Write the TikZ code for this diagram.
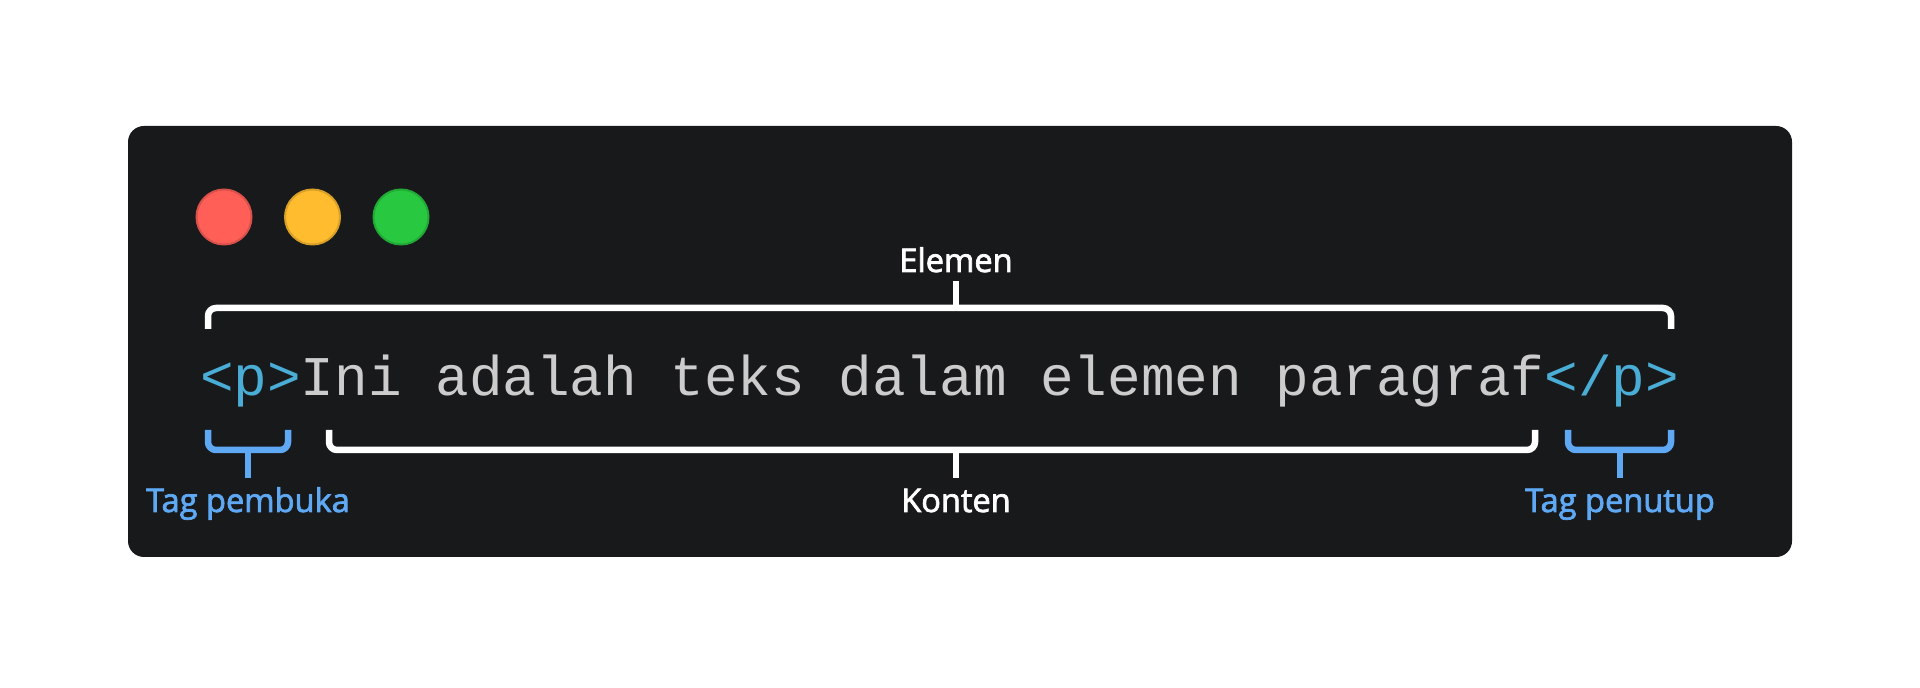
\documentclass[tikz,border=0pt]{standalone}
\usepackage{fontspec}
\setmainfont{Open Sans}
\newfontfamily\codefont{Liberation Mono}
\newfontfamily\lblfont[FakeBold=2.2]{Open Sans}
\definecolor{bgdark}{HTML}{18191B}
\definecolor{tagc}{HTML}{4AADD5}
\definecolor{codec}{HTML}{CCCCCC}
\definecolor{lblblue}{HTML}{5EA8F4}
\definecolor{dred}{HTML}{FF5F57}
\definecolor{dyel}{HTML}{FEBC2E}
\definecolor{dgrn}{HTML}{28C840}
\tikzset{
  brk/.style={line width=6.5*0.5pt, rounded corners=4pt, line cap=butt},
  lbl/.style={font=\lblfont\fontsize{16.3}{18}\selectfont, inner sep=0pt, anchor=base},
  dot/.style={circle, minimum size=55*0.5pt, inner sep=0pt, line width=1pt},
}
\begin{document}
\begin{tikzpicture}[x=0.5pt,y=-0.5pt]
\path[use as bounding box, fill=white] (0,0) rectangle (1920,688);
\fill[bgdark, rounded corners=8pt] (128,126) rectangle (1792,557);
% window dots
\node[dot, fill=dred, draw=dred!85!black] (r) at (224,217) {};
\node[dot, fill=dyel, draw=dyel!85!black] (y) at (312.5,217) {};
\node[dot, fill=dgrn, draw=dgrn!85!black] (g) at (401,217) {};
% code line
\node[inner sep=0pt, anchor=base, font=\codefont\fontsize{28}{30}\selectfont] (code) at (939.5,396)
  {\textcolor{tagc}{<p>}\textcolor{codec}{Ini adalah teks dalam elemen paragraf}\textcolor{tagc}{</p>}};
% labels
\node[lbl, text=white] (elemen) at (956,272) {Elemen};
\node[lbl, text=white] (konten) at (956,512) {Konten};
\node[lbl, text=lblblue] (open) at (248,512) {Tag pembuka};
\node[lbl, text=lblblue] (close) at (1620,512) {Tag penutup};
% coordinates for brackets
\coordinate (eL) at (208,329);
\coordinate (eR) at (1671,329);
\coordinate (eM) at (956,308);
\coordinate (eS) at (956,281);
\coordinate (kM) at (956,450);
\coordinate (kS) at (956,478);
\coordinate (oM) at (248,450);
\coordinate (oS) at (248,478);
\coordinate (cM) at (1620,450);
\coordinate (cS) at (1620,478);
% Elemen bracket
\draw[brk, white] (eL) |- (eM) -| (eR);
\draw[line width=6.5*0.5pt, white] (eM) -- (eS);
% Konten bracket
\draw[brk, white] (329,430) |- (kM) -| (1535,430);
\draw[line width=6.5*0.5pt, white] (kM) -- (kS);
% opening tag bracket
\draw[brk, lblblue] (208,430) |- (oM) -| (288,430);
\draw[line width=6.5*0.5pt, lblblue] (oM) -- (oS);
% closing tag bracket
\draw[brk, lblblue] (1568,430) |- (cM) -| (1671,430);
\draw[line width=6.5*0.5pt, lblblue] (cM) -- (cS);
\end{tikzpicture}
\end{document}
